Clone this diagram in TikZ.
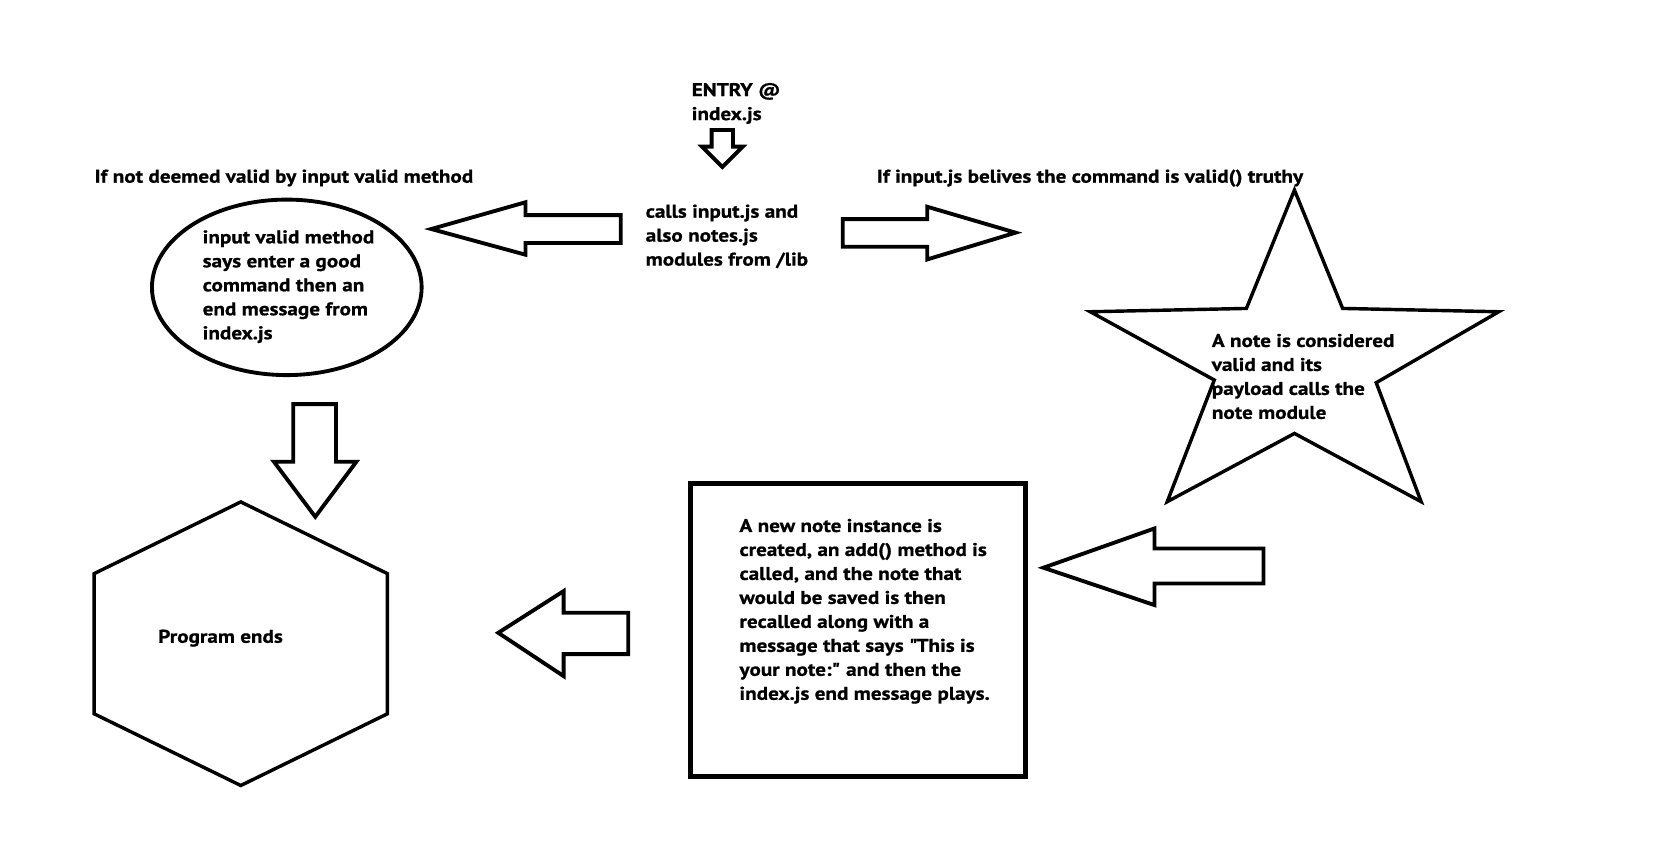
\documentclass[tikz,border=0pt]{standalone}
\usepackage{fontspec}
\setmainfont{PT Sans}[BoldFeatures={FakeStretch=1.15,FakeBold=0.8}]
\usetikzlibrary{shapes.geometric}
\tikzset{
  outline/.style={draw=black, line width=1.8pt, line join=miter},
  thinoutline/.style={draw=black, line width=1.6pt, line join=miter},
  blockarrow/.style={draw=black, line width=1.8pt, line join=miter, fill=white},
  labeltext/.style={font=\bfseries\fontsize{8.6}{11.2}\selectfont, inner sep=0pt, text=black},
  blocktext/.style={labeltext, align=left, anchor=north west},
}
\begin{document}
\begin{tikzpicture}[x=0.5pt,y=-0.5pt]
\useasboundingbox (0,0) rectangle (1568,789.6);

% entry
\node[blocktext] (entry) at (646,75.4) {\rule{0pt}{7pt}ENTRY @\\index.js};
\draw[blockarrow] (665,121.5) -- (685,121.5) -- (685,137) -- (694,137) -- (675,156) -- (656,137) -- (665,137) -- cycle;

% central text
\node[blocktext] (calls) at (603,189) {\rule{0pt}{7pt}calls input.js and\\also notes.js\\modules from /lib};

% top labels
\node[labeltext, anchor=base west] (notvalid) at (88,170.7) {If not deemed valid by input valid method};
\node[labeltext, anchor=base west] (isvalid) at (819,170.7) {If input.js belives the command is valid() truthy};

% arrow left to ellipse
\draw[blockarrow] (580,201) -- (491,201) -- (491,189) -- (403,214) -- (491,238) -- (491,227) -- (580,227) -- cycle;
% arrow right to star
\draw[blockarrow] (787.5,204.7) -- (866.5,204.7) -- (866.5,193.2) -- (949,217.4) -- (866.5,242.4) -- (866.5,230.5) -- (787.5,230.5) -- cycle;

% ellipse
\node[ellipse, outline, minimum width=126pt, minimum height=82pt, inner sep=0pt] (invalid) at (268,268.5) {};
\node[blocktext] (invalidtext) at (189,213) {\rule{0pt}{7pt}input valid method\\says enter a good\\command then an\\end message from\\index.js};

% down arrow to hexagon
\draw[blockarrow] (274,377.6) -- (314,377.6) -- (314,431.5) -- (333,431.5) -- (294.6,482.9) -- (256,431.5) -- (274,431.5) -- cycle;

% hexagon
\draw[thinoutline] (225,469) -- (362,536) -- (362,667) -- (225,734) -- (88,667) -- (88,536) -- cycle;
\node[labeltext, anchor=base west] (ends) at (147.5,600.6) {Program ends};

% star
\draw[thinoutline] (1209.6,177.6) -- (1254.6,288.2) -- (1400.5,291.3) -- (1286,357.6) -- (1328,468.8) -- (1209.6,405) -- (1090.7,468.8) -- (1134.7,355.1) -- (1018.8,291.3) -- (1164.7,288.2) -- cycle;
\node[blocktext] (valid) at (1132,309.8) {\rule{0pt}{7pt}A note is considered\\valid and its\\payload calls the\\note module};

% arrow from star to box
\draw[blockarrow] (1180.7,512.5) -- (1078.8,512.5) -- (1078.8,493.8) -- (975,530.5) -- (1078.8,565.4) -- (1078.8,545.2) -- (1180.7,545.2) -- cycle;

% box
\node[draw=black, line width=2.4pt, minimum width=156.7pt, minimum height=137pt, inner sep=0pt] (notebox) at (801.75,588.6) {};
\node[blocktext] (notetext) at (690.6,482.7) {\rule{0pt}{7pt}A new note instance is\\created, an add() method is\\called, and the note that\\would be saved is then\\recalled along with a\\message that says \textquotedbl This is\\your note:\textquotedbl{} and then the\\index.js end message plays.};

% arrow from box to hexagon
\draw[blockarrow] (587,572.6) -- (526.7,572.6) -- (526.7,552.3) -- (465.6,591.3) -- (526.7,631.8) -- (526.7,611.2) -- (587,611.2) -- cycle;
\end{tikzpicture}
\end{document}
